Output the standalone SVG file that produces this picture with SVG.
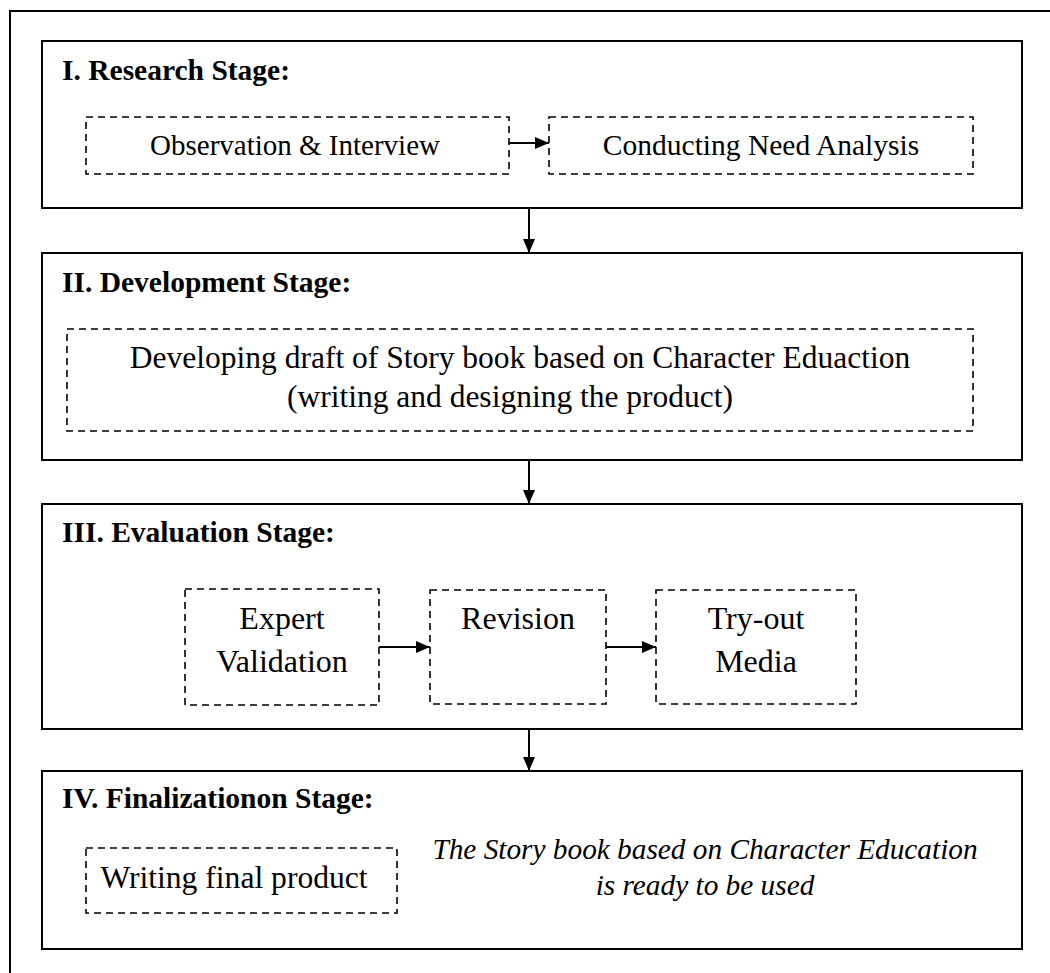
<svg xmlns="http://www.w3.org/2000/svg" width="1050" height="973" viewBox="0 0 1050 973">
<style>
.stage{fill:#fff;stroke:#000;stroke-width:2}
.dash{fill:#fff;stroke:#000;stroke-width:1.6;stroke-dasharray:7,5}
.title{font-family:"Liberation Serif","Times New Roman",serif;font-weight:bold;font-size:29.5px;fill:#000}
.t{font-family:"Liberation Serif","Times New Roman",serif;font-size:32px;fill:#000;text-anchor:middle}
.t1{font-family:"Liberation Serif","Times New Roman",serif;font-size:29.5px;fill:#000;text-anchor:middle}
.it{font-family:"Liberation Serif","Times New Roman",serif;font-size:29.3px;font-style:italic;fill:#000;text-anchor:middle}
.conn{stroke:#000;stroke-width:2;fill:none}
</style>
<defs>
<marker id="ah" markerWidth="14" markerHeight="12" refX="14" refY="6" orient="auto" markerUnits="userSpaceOnUse">
<path d="M0,0 L14,6 L0,12 Z" fill="#000"/>
</marker>
</defs>
<rect width="1050" height="973" fill="#fff"/>
<path d="M1060,11 H10 V990" fill="none" stroke="#000" stroke-width="2"/>

<g id="stage1">
<rect class="stage" x="42" y="41" width="980" height="167"/>
<text class="title" x="62" y="80">I. Research Stage:</text>
</g>
<g id="obs">
<rect class="dash" x="86" y="117" width="423" height="57"/>
<text class="t1" x="295" y="155" style="font-size:29px">Observation &amp; Interview</text>
</g>
<g id="need">
<rect class="dash" x="549" y="117" width="424" height="57"/>
<text class="t1" x="761" y="155">Conducting Need Analysis</text>
</g>

<g id="stage2">
<rect class="stage" x="42" y="253" width="980" height="207"/>
<text class="title" x="62" y="292">II. Development Stage:</text>
</g>
<g id="draft">
<rect class="dash" x="67" y="329" width="906" height="102"/>
<text class="t" x="520" y="368" style="font-size:31.5px">Developing draft of Story book based on Character Eduaction</text>
<text class="t" x="510" y="407" style="font-size:31.5px">(writing and designing the product)</text>
</g>

<g id="stage3">
<rect class="stage" x="42" y="504" width="980" height="225"/>
<text class="title" x="62" y="542">III. Evaluation Stage:</text>
</g>
<g id="expert">
<rect class="dash" x="185" y="589" width="194" height="116"/>
<text class="t" x="282" y="629">Expert</text>
<text class="t" x="282" y="672">Validation</text>
</g>
<g id="revision">
<rect class="dash" x="430" y="590" width="176" height="114"/>
<text class="t" x="518" y="629">Revision</text>
</g>
<g id="tryout">
<rect class="dash" x="656" y="590" width="200" height="114"/>
<text class="t" x="756" y="629">Try-out</text>
<text class="t" x="756" y="672">Media</text>
</g>

<g id="stage4">
<rect class="stage" x="42" y="771" width="980" height="178"/>
<text class="title" x="62" y="808">IV. Finalizationon Stage:</text>
<text class="it" x="705" y="859">The Story book based on Character Education</text>
<text class="it" x="705" y="895">is ready to be used</text>
</g>
<g id="final">
<rect class="dash" x="86" y="848" width="311" height="65"/>
<text class="t" x="234" y="888" style="font-size:31.6px">Writing final product</text>
</g>

<g id="connectors">
<line class="conn" x1="509" y1="143" x2="549" y2="143" marker-end="url(#ah)"/>
<line class="conn" x1="529" y1="208" x2="529" y2="253" marker-end="url(#ah)"/>
<line class="conn" x1="529" y1="460" x2="529" y2="504" marker-end="url(#ah)"/>
<line class="conn" x1="379" y1="647" x2="430" y2="647" marker-end="url(#ah)"/>
<line class="conn" x1="606" y1="647" x2="656" y2="647" marker-end="url(#ah)"/>
<line class="conn" x1="529" y1="729" x2="529" y2="771" marker-end="url(#ah)"/>
</g>
</svg>
